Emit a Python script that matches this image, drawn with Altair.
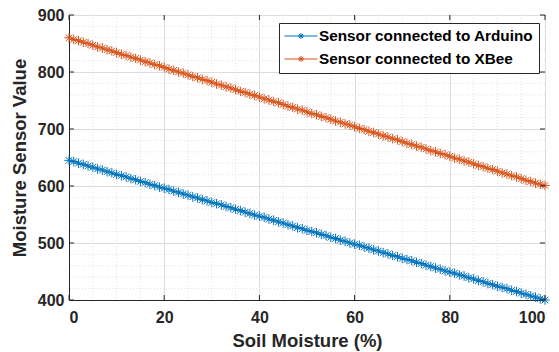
import altair as alt
import pandas as pd

# ---- data ----
soil_moisture = [0, 1, 2, 3, 4, 5, 6, 7, 8, 9, 10, 11, 12, 13, 14, 15, 16, 17, 18, 19, 20,
                 21, 22, 23, 24, 25, 26, 27, 28, 29, 30, 31, 32, 33, 34, 35, 36, 37, 38, 39, 40,
                 41, 42, 43, 44, 45, 46, 47, 48, 49, 50, 51, 52, 53, 54, 55, 56, 57, 58, 59, 60,
                 61, 62, 63, 64, 65, 66, 67, 68, 69, 70, 71, 72, 73, 74, 75, 76, 77, 78, 79, 80,
                 81, 82, 83, 84, 85, 86, 87, 88, 89, 90, 91, 92, 93, 94, 95, 96, 97, 98, 99, 100]

arduino = [645, 643, 640, 638, 635, 633, 630, 628, 625, 623, 620, 618, 616, 613, 611, 608, 606, 603, 601, 598, 596,
           594, 591, 589, 586, 584, 581, 579, 576, 574, 571, 569, 567, 564, 562, 559, 557, 554, 552, 549, 547,
           545, 542, 540, 537, 535, 532, 530, 527, 525, 522, 520, 518, 515, 513, 510, 508, 505, 503, 500, 498,
           496, 493, 491, 488, 486, 483, 481, 478, 476, 473, 471, 469, 466, 464, 461, 459, 456, 454, 451, 449,
           447, 444, 442, 439, 437, 434, 432, 429, 427, 424, 422, 420, 417, 415, 412, 410, 407, 405, 402, 400]

xbee = [860, 857, 855, 852, 850, 847, 844, 842, 839, 837, 834, 831, 829, 826, 824, 821, 818, 816, 813, 811, 808,
        805, 803, 800, 798, 795, 792, 790, 787, 785, 782, 779, 777, 774, 772, 769, 766, 764, 761, 759, 756,
        753, 751, 748, 746, 743, 740, 738, 735, 733, 730, 727, 725, 722, 720, 717, 714, 712, 709, 707, 704,
        701, 699, 696, 694, 691, 688, 686, 683, 681, 678, 675, 673, 670, 668, 665, 662, 660, 657, 655, 652,
        649, 647, 644, 642, 639, 636, 634, 631, 629, 626, 623, 621, 618, 616, 613, 610, 608, 605, 603, 601]

series_names = ["Sensor connected to Arduino", "Sensor connected to XBee"]
series_colors = ["#0072BD", "#D95319"]

x_major = [0, 20, 40, 60, 80, 100]
y_major = [400, 500, 600, 700, 800, 900]
x_minor = [5, 10, 15, 25, 30, 35, 45, 50, 55, 65, 70, 75, 85, 90, 95]
y_minor = [420, 440, 460, 480, 520, 540, 560, 580, 620, 640, 660, 680,
           720, 740, 760, 780, 820, 840, 860, 880]

# ---- tables ----
df = pd.DataFrame({
    "x": soil_moisture * 2,
    "y": arduino + xbee,
    "series": [series_names[0]] * len(soil_moisture) + [series_names[1]] * len(soil_moisture),
})
df_xminor = pd.DataFrame({"x": x_minor})
df_yminor = pd.DataFrame({"y": y_minor})
df_xmajor = pd.DataFrame({"x": x_major})
df_ymajor = pd.DataFrame({"y": y_major})

W, H = 476, 285
FONT = "Liberation Sans"
INK = "#262626"

xscale = alt.Scale(domain=[0, 100], nice=False, zero=False)
yscale = alt.Scale(domain=[400, 900], nice=False, zero=False)

X = alt.X("x:Q", scale=xscale, title="Soil Moisture (%)",
          axis=alt.Axis(values=x_major, grid=True, ticks=False, labelPadding=9,
                        titlePadding=6, format="d"))
Y = alt.Y("y:Q", scale=yscale, title="Moisture Sensor Value",
          axis=alt.Axis(values=y_major, grid=True, ticks=False, labelPadding=5,
                        titlePadding=8, format="d"))

# legend symbol: short line with a small asterisk in the middle
star = ("M-2.2,0L2.2,0M0,-0.4L0,0.4M-0.4,0L0.4,0"
        "M-0.28,-0.28L0.28,0.28M-0.28,0.28L0.28,-0.28")
marker = ("M-1,0L1,0M0,-1L0,1M-0.7,-0.7L0.7,0.7M-0.7,0.7L0.7,-0.7")

legend = alt.Legend(orient="none", legendX=210, legendY=8, title=None,
                    symbolType=star, symbolSize=225, symbolStrokeWidth=1, symbolOffset=9,
                    labelFont=FONT, labelFontSize=15.3, labelFontWeight="bold",
                    labelColor="#000000", labelLimit=0, labelOffset=10,
                    fillColor="white", strokeColor=INK, padding=5, rowPadding=6)
color = alt.Color("series:N", scale=alt.Scale(domain=series_names, range=series_colors),
                  legend=legend, sort=series_names)

minor_v = alt.Chart(df_xminor).mark_rule(color="#e0e0e0", strokeDash=[1, 2], strokeWidth=1).encode(x=X)
minor_h = alt.Chart(df_yminor).mark_rule(color="#e0e0e0", strokeDash=[1, 2], strokeWidth=1).encode(y=Y)

lines = alt.Chart(df).mark_line(strokeWidth=1).encode(x=X, y=Y, color=color)
points = alt.Chart(df).mark_point(shape=marker, size=90, filled=False, strokeWidth=1,
                                  opacity=1).encode(x=X, y=Y, color=color)

tick_top = alt.Chart(df_xmajor).mark_rule(color=INK).encode(x=X, y=alt.value(0), y2=alt.value(5))
tick_bot = alt.Chart(df_xmajor).mark_rule(color=INK).encode(x=X, y=alt.value(H), y2=alt.value(H - 5))
tick_left = alt.Chart(df_ymajor).mark_rule(color=INK).encode(y=Y, x=alt.value(0), x2=alt.value(5))
tick_right = alt.Chart(df_ymajor).mark_rule(color=INK).encode(y=Y, x=alt.value(W), x2=alt.value(W - 5))

chart = alt.layer(
    minor_v, minor_h, lines, points, tick_top, tick_bot, tick_left, tick_right
).properties(
    width=W, height=H,
    autosize=alt.AutoSizeParams(type="none"),
    padding={"left": 61, "top": 7, "right": 6, "bottom": 52},
    background="white",
).configure_axis(
    labelFont=FONT, labelFontSize=16, labelFontWeight="bold", labelColor=INK,
    titleFont=FONT, titleFontSize=18.5, titleFontWeight="bold", titleColor=INK,
    gridColor="#dcdcdc", gridWidth=1, domainColor=INK, domainWidth=1,
).configure_view(stroke=INK, strokeWidth=1)

chart.save("out.html", embed_options={"renderer": "svg", "actions": False})
